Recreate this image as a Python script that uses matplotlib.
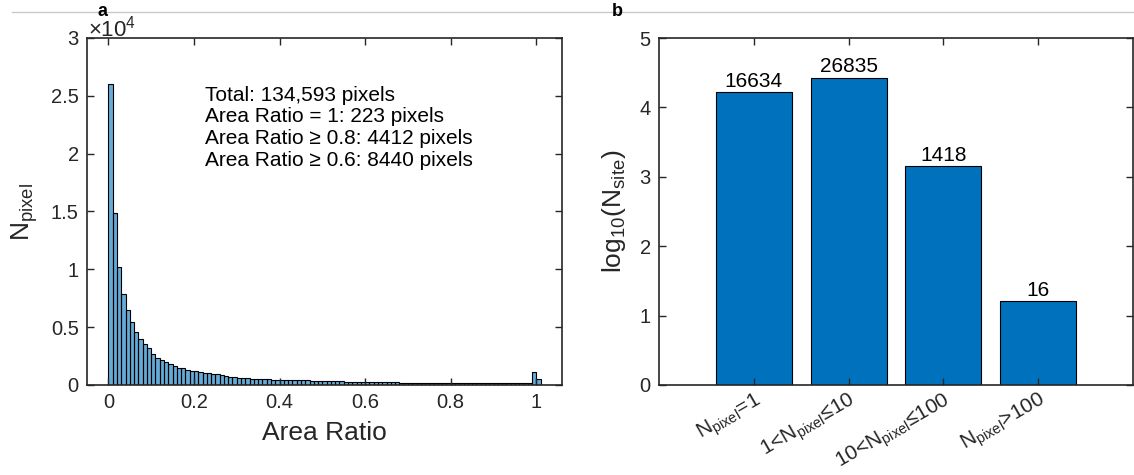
import matplotlib
matplotlib.use("Agg")
import matplotlib.pyplot as plt
import numpy as np
from matplotlib.lines import Line2D

plt.rcParams['font.family'] = ['Liberation Sans', 'DejaVu Sans']
plt.rcParams['mathtext.fontset'] = 'custom'
plt.rcParams['mathtext.rm'] = 'Liberation Sans'
plt.rcParams['mathtext.it'] = 'Liberation Sans:italic'
plt.rcParams['mathtext.bf'] = 'Liberation Sans:bold'

# ---------------- data ----------------
bin_width = 0.01
hist_counts = [
    26000, 14900, 10200, 7850, 6480, 5420, 4550, 4000, 3570, 3220,
    2700, 2370, 2180, 1970, 1800, 1630, 1510, 1440, 1330, 1250,
    1210, 1125, 1065, 1010, 950, 925, 835, 780, 720, 690,
    635, 605, 580, 545, 520, 505, 490, 480, 470, 460,
    450, 440, 430, 420, 410, 400, 390, 380, 370, 360,
    350, 340, 330, 320, 310, 300, 295, 290, 285, 280,
    260, 250, 245, 240, 235, 230, 225, 220, 215, 210,
    205, 200, 198, 195, 192, 190, 187, 185, 182, 180,
    165, 162, 160, 158, 156, 154, 152, 150, 148, 147,
    146, 145, 144, 142, 140, 139, 138, 136, 135, 1100,
    550,
]
annotation_lines = [
    "Total: 134,593 pixels",
    "Area Ratio = 1: 223 pixels",
    "Area Ratio \u2265 0.8: 4412 pixels",
    "Area Ratio \u2265 0.6: 8440 pixels",
]
SUB = r'$_{\mathregular{pixel}}$'
site_categories = [
    "N" + SUB + "=1",
    "1<N" + SUB + "\u226410",
    "10<N" + SUB + "\u2264100",
    "N" + SUB + ">100",
]
site_counts = [16634, 26835, 1418, 16]

# ---------------- figure ----------------
W, H = 1134, 475
fig = plt.figure(figsize=(W / 100, H / 100), dpi=100)
fig.patch.set_facecolor('white')

axis_color = '#262626'
tick_fs = 14.5

def px_axes(l, r, t, b):
    return fig.add_axes([l / W, 1 - b / H, (r - l) / W, (b - t) / H])

def style(ax):
    for s in ax.spines.values():
        s.set_color(axis_color)
        s.set_linewidth(1.2)
    ax.tick_params(direction='in', top=True, right=True, length=5, width=1.0,
                   colors=axis_color, labelsize=tick_fs, labelcolor=axis_color, pad=6)

# ---- panel a ----
axa = px_axes(87, 562, 38, 385)
style(axa)
n = len(hist_counts)
edges = np.arange(n) * bin_width
axa.bar(edges, hist_counts, width=bin_width, align='edge',
        color=(0.0, 0.447, 0.741), alpha=0.6, edgecolor='none')
axa.bar(edges, hist_counts, width=bin_width, align='edge',
        facecolor='none', edgecolor='black', linewidth=0.8)
axa.set_xlim(-0.05, 1.06)
axa.set_ylim(0, 30000)
axa.set_xticks([0, 0.2, 0.4, 0.6, 0.8, 1])
axa.set_xticklabels(['0', '0.2', '0.4', '0.6', '0.8', '1'])
axa.set_yticks(np.arange(0, 30001, 5000))
axa.set_yticklabels(['0', '0.5', '1', '1.5', '2', '2.5', '3'])
axa.text(0.003, 1.0029, r'$\mathregular{\times10^{4}}$', transform=axa.transAxes,
         fontsize=16, color=axis_color, ha='left', va='baseline')
axa.set_xlabel('Area Ratio', fontsize=19, color=axis_color, labelpad=6)
axa.set_ylabel(r'$\mathregular{N_{pixel}}$', fontsize=19, color=axis_color, labelpad=8)
axa.text(0.248, 0.862, "\n".join(annotation_lines), transform=axa.transAxes,
         fontsize=15, ha='left', va='top', linespacing=1.17, color='black')

# ---- panel b ----
axb = px_axes(659, 1133, 38, 385)
style(axb)
xpos = np.arange(1, len(site_counts) + 1)
vals = np.log10(site_counts)
axb.bar(xpos, vals, width=0.8, color='#0072BD', edgecolor='black', linewidth=0.8)
axb.set_xlim(0, 5)
axb.set_ylim(0, 5)
axb.set_yticks(range(0, 6))
axb.set_xticks(xpos)
axb.set_xticklabels(site_categories, rotation=30, ha='right', rotation_mode='anchor',
                    fontsize=15)
axb.tick_params(axis='x', pad=3)
for x, v, c in zip(xpos, vals, site_counts):
    axb.text(x, v + 0.02, f"{c}", ha='center', va='bottom', fontsize=15, color='black')
axb.set_ylabel(r'$\mathregular{log_{10}(N_{site})}$', fontsize=19, color=axis_color,
               labelpad=8)

# panel letters and top rule
fig.add_artist(Line2D([12 / W, 1], [1 - 11.5 / H, 1 - 11.5 / H], color='#c8c8c8',
                      linewidth=1.0))
fig.text(103 / W, 1 - 11 / H, 'a', fontsize=13, fontweight='bold', ha='center', va='center')
fig.text(617 / W, 1 - 12 / H, 'b', fontsize=13, fontweight='bold', ha='center', va='center')

fig.savefig('out.png', dpi=100)
